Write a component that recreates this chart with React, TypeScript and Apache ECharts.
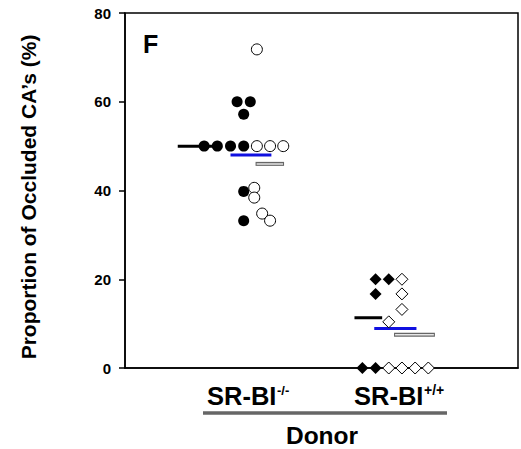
import React, { useEffect, useRef } from "react";
import * as echarts from "echarts";

// slot index along the jittered x axis, value in %
const filledCircles: [number, number][] = [
  [2.5, 60], [3.5, 60], [3, 57.2],
  [0, 50], [1, 50], [2, 50], [3, 50],
  [3, 39.8], [3, 33.2],
];
const openCircles: [number, number][] = [
  [4, 71.8],
  [4, 50], [5, 50], [6, 50],
  [3.8, 40.6], [3.8, 38.4],
  [4.4, 34.8], [5, 33.2],
];
const filledDiamonds: [number, number][] = [
  [13, 20], [14, 20], [13, 16.7],
  [12, 0], [13, 0],
];
const openDiamonds: [number, number][] = [
  [15, 20], [15, 16.7], [15, 13.2], [14, 10.4],
  [14, 0], [15, 0], [16, 0], [17, 0],
];

// group means: [xStart, xEnd, value]
const meanBlack: [number, number, number][] = [[-2, 1, 50], [11.4, 13.5, 11.3]];
const meanBlue: [number, number, number][] = [[2, 5.1, 48], [12.9, 16.1, 8.9]];
const meanGray: [number, number, number][] = [[3.9, 6.06, 46], [14.4, 17.5, 7.5]];

const groupLabels = ["SR-BI", "SR-BI"];
const groupSup = ["-/-", "+/+"];
const xTitle = "Donor";
const yTitle = "Proportion of Occluded CA\u2019s (%)";
const panelLetter = "F";

const FONT = "Liberation Sans, Arial, sans-serif";

function segLines(segs: [number, number, number][], color: string, width: number, z: number) {
  return segs.map((s) => ({
    type: "line" as const,
    data: [[s[0], s[2]], [s[1], s[2]]],
    showSymbol: false,
    symbol: "none",
    lineStyle: { color, width, cap: "butt" as const, opacity: 1 },
    z,
    silent: true,
  }));
}

export default function App() {
  const ref = useRef<HTMLDivElement>(null);
  useEffect(() => {
    if (!ref.current) return;
    const chart = echarts.init(ref.current, undefined, { renderer: "svg" });
    const option: any = {
      animation: false,
      backgroundColor: "#ffffff",
      grid: {
        left: 125, top: 13, width: 393, height: 355,
        show: true, borderColor: "#000", borderWidth: 1.5, backgroundColor: "transparent",
      },
      xAxis: {
        type: "value", min: -6, max: 23.8,
        axisLine: { show: true, onZero: false, lineStyle: { color: "#000", width: 1.5 } },
        axisTick: { show: false }, axisLabel: { show: false }, splitLine: { show: false },
      },
      yAxis: {
        type: "value", min: 0, max: 80, interval: 20,
        axisLine: { show: true, onZero: false, lineStyle: { color: "#000", width: 1.5 } },
        axisTick: { show: true, inside: false, length: 6, lineStyle: { color: "#000", width: 1.5 } },
        axisLabel: { color: "#000", fontSize: 15, fontWeight: "bold", fontFamily: FONT, margin: 14 },
        splitLine: { show: false },
      },
      series: [
        ...segLines(meanBlack, "#000", 3, 1),
        ...segLines(meanBlue, "#1010e0", 3, 1),
        ...segLines(meanGray, "#666", 4, 1),
        ...segLines(meanGray.map((s) => [s[0] + 0.08, s[1] - 0.08, s[2]] as [number, number, number]), "#e6e6e6", 1.5, 1),
        {
          type: "scatter", data: filledCircles, symbol: "circle", symbolSize: 11,
          itemStyle: { color: "#000", opacity: 1 }, z: 3,
        },
        {
          type: "scatter", data: openCircles, symbol: "circle", symbolSize: 11,
          itemStyle: { color: "#fff", borderColor: "#000", borderWidth: 1, opacity: 1 }, z: 3,
        },
        {
          type: "scatter", data: filledDiamonds, symbol: "diamond", symbolSize: 12,
          itemStyle: { color: "#000", opacity: 1 }, z: 3,
        },
        {
          type: "scatter", data: openDiamonds, symbol: "diamond", symbolSize: 12,
          itemStyle: { color: "#fff", borderColor: "#000", borderWidth: 1, opacity: 1 }, z: 3,
        },
      ],
      graphic: [
        {
          type: "text", x: 143, y: 44,
          style: { text: panelLetter, fontSize: 25, fontWeight: "bold", fontFamily: FONT, fill: "#000", textAlign: "left", textVerticalAlign: "middle" },
        },
        {
          type: "text", x: 28, y: 197, rotation: Math.PI / 2,
          style: { text: yTitle, fontSize: 21, fontWeight: "bold", fontFamily: FONT, fill: "#000", textAlign: "center", textVerticalAlign: "middle" },
        },
        {
          type: "text", x: 207, y: 396,
          style: { text: groupLabels[0], fontSize: 25.5, fontWeight: "bold", fontFamily: FONT, fill: "#000", textAlign: "left", textVerticalAlign: "middle" },
        },
        {
          type: "text", x: 277, y: 390,
          style: { text: groupSup[0], fontSize: 13, fontWeight: "bold", fontFamily: FONT, fill: "#000", textAlign: "left", textVerticalAlign: "middle" },
        },
        {
          type: "text", x: 354, y: 396,
          style: { text: groupLabels[1], fontSize: 25.5, fontWeight: "bold", fontFamily: FONT, fill: "#000", textAlign: "left", textVerticalAlign: "middle" },
        },
        {
          type: "text", x: 424, y: 390,
          style: { text: groupSup[1], fontSize: 14, fontWeight: "bold", fontFamily: FONT, fill: "#000", textAlign: "left", textVerticalAlign: "middle" },
        },
        {
          type: "line", shape: { x1: 203, y1: 413, x2: 447, y2: 413 },
          style: { stroke: "#666", lineWidth: 3.5 },
        },
        {
          type: "text", x: 322, y: 435,
          style: { text: xTitle, fontSize: 24.5, fontWeight: "bold", fontFamily: FONT, fill: "#000", textAlign: "center", textVerticalAlign: "middle" },
        },
      ],
    };
    chart.setOption(option);
    return () => chart.dispose();
  }, []);
  return (
    <div
      ref={ref}
      style={{ position: "absolute", left: 0, top: 0, width: 521, height: 449 }}
    />
  );
}
